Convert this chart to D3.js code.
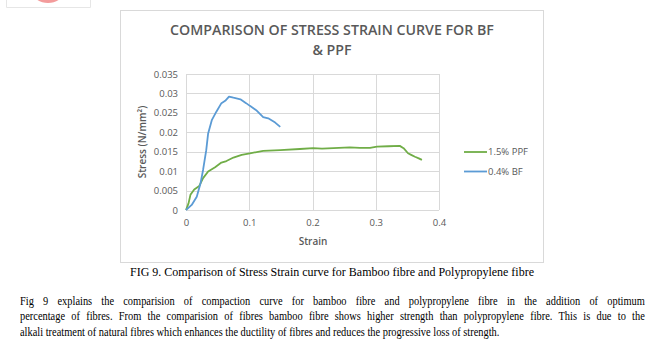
<!DOCTYPE html>
<html><head><meta charset="utf-8">
<script src="https://cdn.jsdelivr.net/npm/d3@7"></script>
<style>
html,body{margin:0;padding:0;background:#fff;width:664px;height:351px;overflow:hidden;}
.para{position:absolute;left:20px;width:781px;font-family:"Liberation Serif","Times New Roman",serif;font-size:13px;line-height:15px;color:#000;white-space:nowrap;transform:scaleX(0.8);transform-origin:0 0;}
.just{text-align:justify;text-align-last:justify;}
</style></head>
<body>
<svg id="chart" width="664" height="351" style="position:absolute;left:0;top:0"></svg>
<script>
const chartTitle = ["COMPARISON OF STRESS STRAIN CURVE FOR BF", "& PPF"];
const xLabel = "Strain";
const yLabel = "Stress (N/mm²)";
const xTicks = [0, 0.1, 0.2, 0.3, 0.4];
const yTicks = [0, 0.005, 0.01, 0.015, 0.02, 0.025, 0.03, 0.035];
const seriesNames = ["1.5% PPF", "0.4% BF"];
const seriesColors = ["#70ad47", "#5b9bd5"];
const ppfStrain = [0, 0.004, 0.007, 0.013, 0.021, 0.027, 0.035, 0.046, 0.056, 0.064, 0.075, 0.088, 0.101, 0.122, 0.149, 0.180, 0.201, 0.215, 0.233, 0.259, 0.275, 0.291, 0.302, 0.320, 0.338, 0.344, 0.351, 0.356, 0.362, 0.368, 0.373];
const ppfStress = [0, 0.0017, 0.0039, 0.0053, 0.0062, 0.0082, 0.0099, 0.0110, 0.0122, 0.0126, 0.0135, 0.0142, 0.0146, 0.0152, 0.0154, 0.0157, 0.0159, 0.0158, 0.0159, 0.0161, 0.0160, 0.0160, 0.0163, 0.0164, 0.0165, 0.0159, 0.0146, 0.0142, 0.0137, 0.0133, 0.0129];
const bfStrain = [0, 0.009, 0.017, 0.023, 0.027, 0.032, 0.035, 0.041, 0.048, 0.056, 0.062, 0.068, 0.075, 0.086, 0.095, 0.101, 0.111, 0.122, 0.130, 0.141, 0.149];
const bfStress = [0, 0.0013, 0.0034, 0.0069, 0.0103, 0.0154, 0.0197, 0.0232, 0.0253, 0.0275, 0.0281, 0.0292, 0.0289, 0.0285, 0.0275, 0.0268, 0.0257, 0.0239, 0.0236, 0.0225, 0.0214];
const caption = "FIG 9. Comparison of Stress Strain curve for Bamboo fibre and Polypropylene fibre";
const paragraphLines = [
 "Fig 9 explains the comparision of compaction curve for bamboo fibre and polypropylene fibre in the addition of optimum",
 "percentage of fibres. From the comparision of fibres bamboo fibre shows higher strength than polypropylene fibre. This is due to the",
 "alkali treatment of natural fibres which enhances the ductility of fibres and reduces the progressive loss of strength."
];

const svg = d3.select("#chart");
const gray = "#595959";
const font = "'Open Sans', Calibri, sans-serif";

// small clipped logo box at top-left
svg.append("clipPath").attr("id","logoclip").append("rect").attr("x",6).attr("y",0).attr("width",84).attr("height",7);
svg.append("ellipse").attr("cx",48).attr("cy",-9).attr("rx",16).attr("ry",12).attr("fill","#f39b9b").attr("clip-path","url(#logoclip)");
svg.append("path").attr("d","M6.5,0 V7.5 H90.5 V0").attr("fill","none").attr("stroke","#e6e6e6");

// chart frame
svg.append("rect").attr("x",120.5).attr("y",10.5).attr("width",423).attr("height",252).attr("fill","#fff").attr("stroke","#d9d9d9");

const x = d3.scaleLinear().domain([0,0.4]).range([186,439]);
const y = d3.scaleLinear().domain([0,0.035]).range([210,74]);

// gridlines
svg.append("g").selectAll("line.h").data(yTicks).join("line")
  .attr("x1",x(0)).attr("x2",x(0.4)).attr("y1",d=>Math.round(y(d))+0.5).attr("y2",d=>Math.round(y(d))+0.5)
  .attr("stroke","#d9d9d9").attr("stroke-width",1);
svg.append("g").selectAll("line.v").data(xTicks).join("line")
  .attr("y1",y(0)).attr("y2",y(0.035)).attr("x1",d=>Math.round(x(d))+0.5).attr("x2",d=>Math.round(x(d))+0.5)
  .attr("stroke","#d9d9d9").attr("stroke-width",1);

// axes labels
const yAxis = d3.axisLeft(y).tickValues(yTicks).tickSize(0).tickPadding(8).tickFormat(d=>d===0?"0":String(+d.toFixed(3)));
const gy = svg.append("g").attr("transform",`translate(${x(0)},0)`).call(yAxis);
gy.select(".domain").remove();
gy.selectAll("text").attr("fill",gray).style("font-family",font).style("font-size","9.5px");
const xAxis = d3.axisBottom(x).tickValues(xTicks).tickSize(0).tickPadding(9).tickFormat(d=>d===0?"0":String(d));
const gx = svg.append("g").attr("transform",`translate(0,${y(0)})`).call(xAxis);
gx.select(".domain").remove();
gx.selectAll("text").attr("fill",gray).style("font-family",font).style("font-size","9.5px");

// lines
const line = d3.line().x(d=>x(d[0])).y(d=>y(d[1]));
const ppf = ppfStrain.map((v,i)=>[v,ppfStress[i]]);
const bf = bfStrain.map((v,i)=>[v,bfStress[i]]);
svg.append("path").datum(ppf).attr("d",line).attr("fill","none").attr("stroke",seriesColors[0]).attr("stroke-width",1.8).attr("stroke-linejoin","round");
svg.append("path").datum(bf).attr("d",line).attr("fill","none").attr("stroke",seriesColors[1]).attr("stroke-width",1.8).attr("stroke-linejoin","round");

// titles
svg.selectAll("text.title").data(chartTitle).join("text").attr("class","title")
  .attr("x",332).attr("y",(d,i)=>35+i*20).attr("text-anchor","middle")
  .attr("fill",gray).style("font-family",font).style("font-weight","600").style("font-size","14.2px").text(d=>d);
svg.append("text").attr("x",313).attr("y",245).attr("text-anchor","middle").attr("fill",gray)
  .style("font-family",font).style("font-weight","600").style("font-size","10px").text(xLabel);
svg.append("text").attr("transform","translate(146,142) rotate(-90)").attr("text-anchor","middle").attr("fill",gray)
  .style("font-family",font).style("font-weight","600").style("font-size","10px").text(yLabel);

// legend
const lg = svg.append("g");
seriesNames.forEach((n,i)=>{
  const yy = 152 + i*19.5;
  lg.append("line").attr("x1",464).attr("x2",487).attr("y1",yy).attr("y2",yy).attr("stroke",seriesColors[i]).attr("stroke-width",1.8);
  lg.append("text").attr("x",488).attr("y",yy+3.3).attr("fill",gray).style("font-family",font).style("font-size","9.5px").text(n);
});

// caption
svg.append("text").attr("x",332).attr("y",276).attr("text-anchor","middle")
  .style("font-family","'Liberation Serif','Times New Roman',serif").style("font-size","13px").attr("fill","#000")
  .attr("textLength",404).attr("lengthAdjust","spacingAndGlyphs").text(caption);

// paragraph
paragraphLines.forEach((t,i)=>{
  d3.select("body").append("div").attr("class","para"+(i<2?" just":""))
    .style("top",(293+i*15.3)+"px").text(t);
});
</script>
</body></html>
